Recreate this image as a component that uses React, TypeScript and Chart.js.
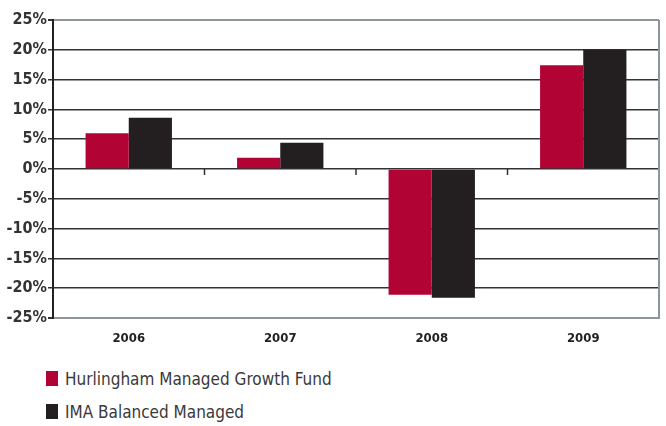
import React, { useEffect, useRef } from "react";
import { Chart, registerables } from "chart.js";

Chart.register(...registerables);

const categories = ["2006", "2007", "2008", "2009"];
const seriesNames = ["Hurlingham Managed Growth Fund", "IMA Balanced Managed"];
const hurlingham = [6.0, 1.9, -21.1, 17.4];
const imaBalanced = [8.6, 4.4, -21.6, 20.0];
const seriesColors = ["#B10435", "#231F20"];
const yMin = -25;
const yMax = 25;
const yStep = 5;

const framePlugin = {
  id: "frame",
  afterDraw(chart: any) {
    const { ctx, chartArea } = chart;
    const x = chart.scales.x;
    const y = chart.scales.y;
    const zeroY = y.getPixelForValue(0);
    const n = categories.length;
    const catW = (chartArea.right - chartArea.left) / n;
    ctx.save();
    ctx.strokeStyle = "#8E959B";
    ctx.lineWidth = 2;
    ctx.beginPath();
    ctx.moveTo(chartArea.right, chartArea.top);
    ctx.lineTo(chartArea.right, chartArea.bottom);
    ctx.stroke();
    ctx.strokeStyle = "#333";
    ctx.lineWidth = 1.5;
    for (let i = 1; i < n; i++) {
      const px = x.getPixelForValue(i) - catW / 2;
      ctx.beginPath();
      ctx.moveTo(px, zeroY);
      ctx.lineTo(px, zeroY + 6);
      ctx.stroke();
    }
    ctx.restore();
  },
};

export default function App() {
  const ref = useRef<HTMLCanvasElement>(null);
  useEffect(() => {
    if (!ref.current) return;
    const chart = new Chart(ref.current, {
      type: "bar",
      data: {
        labels: categories,
        datasets: [
          { label: seriesNames[0], data: hurlingham, backgroundColor: seriesColors[0] },
          { label: seriesNames[1], data: imaBalanced, backgroundColor: seriesColors[1] },
        ],
      },
      options: {
        animation: false,
        responsive: false,
        maintainAspectRatio: false,
        layout: { padding: { top: 20, right: 7, left: 0, bottom: 0 } },
        plugins: { legend: { display: false }, tooltip: { enabled: false } },
        datasets: { bar: { categoryPercentage: 0.57, barPercentage: 1 } },
        scales: {
          x: {
            grid: { display: false },
            border: { display: true, color: "#8E959B", width: 2 },
            ticks: {
              color: "#222",
              font: { family: "'DejaVu Sans Condensed', sans-serif", weight: "bold", size: 13 },
              padding: 5,
            },
            afterFit: (s: any) => { s.height = 32; },
          },
          y: {
            min: yMin,
            max: yMax,
            ticks: {
              stepSize: yStep,
              color: "#333",
              padding: 1,
              font: { family: "'DejaVu Sans Condensed', sans-serif", weight: "bold", size: 16 },
              callback: (v: any) => `${v}%`,
            },
            grid: {
              color: (c: any) => (c.tick && (c.tick.value === yMax) ? "#8E959B" : "#333"),
              lineWidth: (c: any) => (c.tick && (c.tick.value === yMax || c.tick.value === yMin) ? 2 : 1.5),
              tickLength: 5,
              tickColor: "#333",
            },
            border: { display: true, color: "#222", width: 2 },
            afterFit: (s: any) => { s.width = 53; },
          },
        },
      },
      plugins: [framePlugin],
    });
    return () => chart.destroy();
  }, []);

  const legendFont = "'DejaVu Sans Condensed', sans-serif";
  return (
    <div style={{ position: "absolute", left: 0, top: 0, width: 666, height: 426, background: "#fff" }}>
      <canvas ref={ref} width={666} height={350} style={{ display: "block" }} />
      <div style={{ position: "absolute", left: 46, top: 362 }}>
        {seriesNames.map((name, i) => (
          <div key={name} style={{ display: "flex", alignItems: "center", height: 33 }}>
            <span style={{ display: "inline-block", width: 12, height: 15, background: seriesColors[i], marginRight: 7 }} />
            <span style={{ fontFamily: legendFont, fontSize: 17, color: "#3a3a3a" }}>{name}</span>
          </div>
        ))}
      </div>
    </div>
  );
}
